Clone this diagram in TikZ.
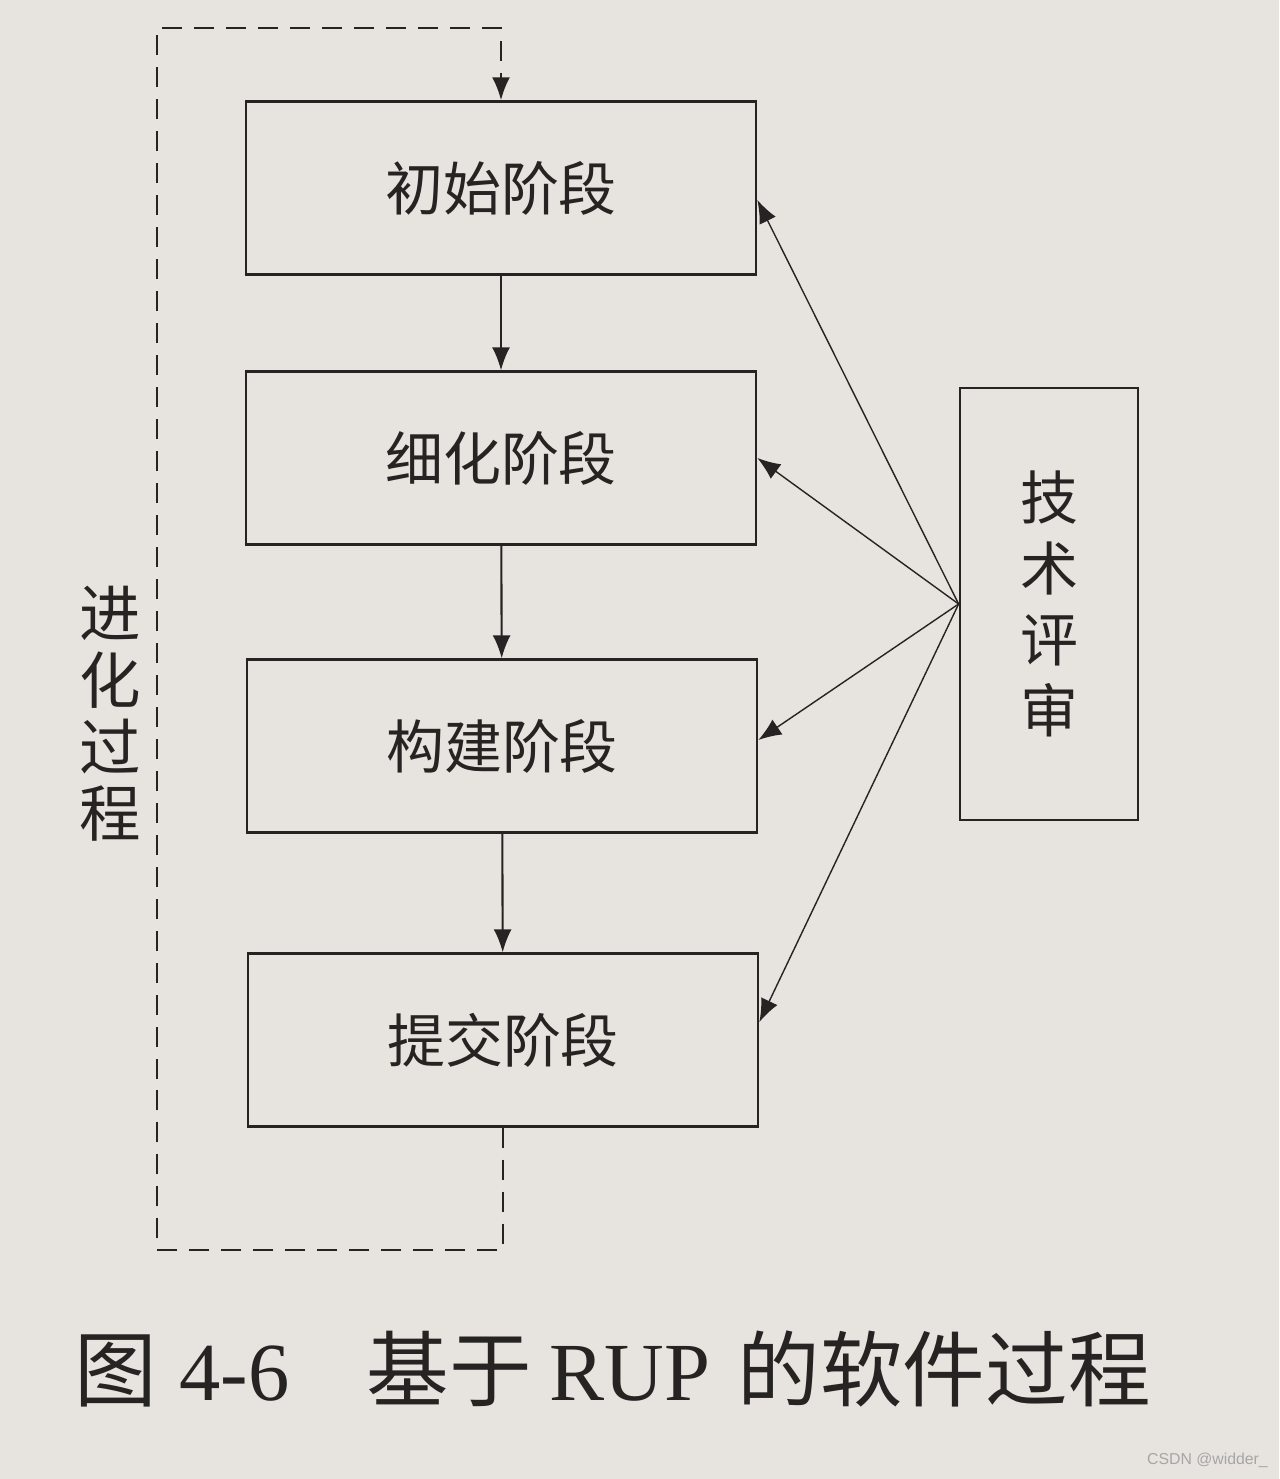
\documentclass[tikz,border=0pt]{standalone}
\usepackage{fontspec}
\newfontfamily\cjk{Noto Sans CJK SC}
\newfontfamily\capfont{Liberation Serif}
\setsansfont{Liberation Sans}
\usetikzlibrary{arrows.meta}
\definecolor{paper}{HTML}{E7E4DF}
\definecolor{ink}{HTML}{262422}

\begin{document}
\begin{tikzpicture}[x=0.02cm,y=-0.02cm]
        \tikzstyle{every node}=[text=ink]
        \tikzstyle{phase}=[draw=ink, line width=1.6pt, minimum width=10.2cm, minimum height=3.45cm, inner sep=0pt, font=\cjk\fontsize{33}{40}\selectfont]
        \tikzstyle{flow}=[draw=ink, line width=1.2pt, -{Latex[length=0.46cm,width=0.36cm]}]
        \tikzstyle{review}=[draw=ink, line width=0.8pt, -{Latex[length=0.46cm,width=0.36cm]}]
        \tikzstyle{loopback}=[draw=ink, line width=1.5pt, dash pattern=on 0.4cm off 0.24cm, -{Latex[length=0.46cm,width=0.36cm]}]

        % paper
        \fill[paper] (0,0) rectangle (1279,1479);
        \useasboundingbox (0,0) rectangle (1279,1479);

        % phases
        \node[phase] (init) at (501,188) {初始阶段};
        \node[phase] (elab) at (501,458) {细化阶段};
        \node[phase] (cons) at (502,746) {构建阶段};
        \node[phase] (trans) at (503,1040) {提交阶段};
        \draw[flow] (init) -- (elab);
        \draw[flow] (elab) -- (cons);
        \draw[flow] (cons) -- (trans);

        % technical review
        \node[draw=ink, line width=1.6pt, minimum width=3.56cm, minimum height=8.64cm, align=center,
              font=\cjk\fontsize{33}{40.5}\selectfont] (rev) at (1049,604) {技\\术\\评\\审};
        \draw[review] (rev.west) -- ([yshift=-0.24cm]init.east);
        \draw[review] (rev.west) -- (elab.east);
        \draw[review] (rev.west) -- ([yshift=0.12cm]cons.east);
        \draw[review] (rev.west) -- ([yshift=0.36cm]trans.east);

        % evolution loop
        \coordinate (lb) at (157,1250);
        \coordinate (lt) at (157,28);
        \draw[loopback] (trans.south) |- (lb) -- (lt) -| (init.north);
        \node[align=center, font=\cjk\fontsize{35}{38}\selectfont] (evo) at (110,714) {进\\化\\过\\程};

        % caption
        \node[anchor=base west, inner sep=0pt, font=\capfont\fontsize{47}{50}\selectfont] (cap) at (74,1400)
            {{\cjk 图}\hspace{0.45cm}4-6\hspace{1.55cm}{\cjk 基于}\hspace{0.35cm}RUP\hspace{0.55cm}{\cjk 的软件过程}};
        \node[anchor=south east, font=\sffamily\fontsize{9}{10}\selectfont, text=gray!70] (mark) at (1274,1474) {CSDN @widder\_};
\end{tikzpicture}
\end{document}
